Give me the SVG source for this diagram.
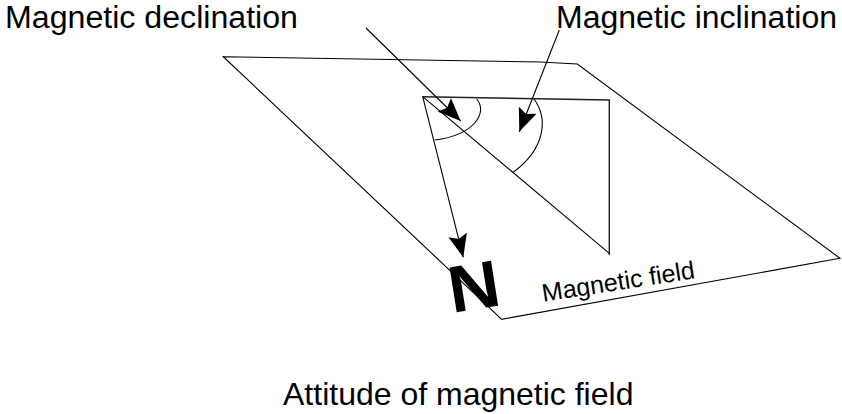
<svg xmlns="http://www.w3.org/2000/svg" width="842" height="414" viewBox="0 0 842 414">
<defs>
<style>
.ln{fill:none;stroke:#000;stroke-width:1.1;stroke-linejoin:miter}
.in{fill:none;stroke:#222;stroke-width:1.4}
.lbl{font-family:"Liberation Sans",Arial,sans-serif;fill:#000}
</style>
<marker id="arr" viewBox="0 0 23 20" refX="23" refY="10" markerWidth="23" markerHeight="20" markerUnits="userSpaceOnUse" orient="auto">
<path d="M0,0.5 L23,10 L0,19.5 L4,10 Z" fill="#000"/>
</marker>
</defs>
<rect width="842" height="414" fill="#fff"/>
<g id="plane">
<polygon class="ln" points="223.3,56.7 540,62 577.3,64 840,258.3 501.7,319.3"/>
</g>
<g id="triangle">
<polyline class="in" points="422.7,96.7 609.3,100 609.3,255"/>
<line class="ln" x1="422.7" y1="96.7" x2="609.3" y2="253.3"/>
</g>
<g id="angles">
<path class="ln" d="M476.7,99 C488,112 475,135 435,140"/>
<path class="ln" d="M534,99 C548,118 546,148 513.3,172.3"/>
</g>
<g id="connectors">
<line class="ln" x1="366" y1="28" x2="460.7" y2="121" marker-end="url(#arr)"/>
<line class="ln" x1="559.3" y1="30" x2="519.3" y2="131.7" marker-end="url(#arr)"/>
<line class="ln" x1="422.7" y1="96.7" x2="463.3" y2="257.3" marker-end="url(#arr)"/>
</g>
<g id="north">
<text class="lbl" transform="translate(452,313) rotate(-9) scale(1.08,1)" font-size="66" font-weight="bold">N</text>
</g>
<g id="labels">
<text class="lbl" x="5" y="28" font-size="31" textLength="293" lengthAdjust="spacingAndGlyphs">Magnetic declination</text>
<text class="lbl" x="556" y="28" font-size="31" textLength="281" lengthAdjust="spacingAndGlyphs">Magnetic inclination</text>
<text class="lbl" transform="translate(543.3,301.7) rotate(-8.8)" font-size="25">Magnetic field</text>
<text class="lbl" x="283" y="405" font-size="32">Attitude of magnetic field</text>
</g>
</svg>
